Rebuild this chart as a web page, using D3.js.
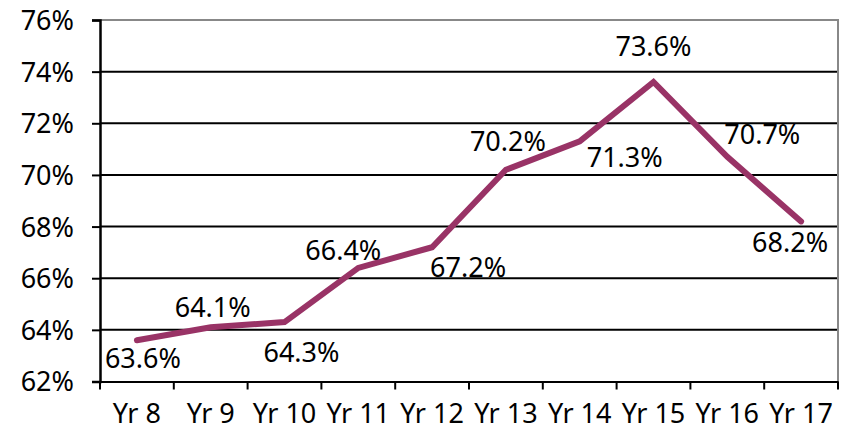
<!DOCTYPE html>
<html>
<head>
<meta charset="utf-8">
<script src="https://cdn.jsdelivr.net/npm/d3@7"></script>
<style>
  body { margin: 0; background: #fff; }
  text { font-family: "Noto Sans", sans-serif; font-size: 27px; fill: #000; }
</style>
</head>
<body>
<svg id="chart"></svg>
<script>
// data
const years = ['Yr 8', 'Yr 9', 'Yr 10', 'Yr 11', 'Yr 12', 'Yr 13', 'Yr 14', 'Yr 15', 'Yr 16', 'Yr 17'];
const rates = [63.6, 64.1, 64.3, 66.4, 67.2, 70.2, 71.3, 73.6, 70.7, 68.2];
const yTicks = [62, 64, 66, 68, 70, 72, 74, 76];

// where each data label sits relative to its point (px)
const labelDx = [6, 2, 17, -15, 36, 2, 45, 0, 35, -11];
const labelDy = [18, -20, 30, -17, 20, -28, 16, -35, -22, 21];

const W = 848, H = 430;
const margin = { top: 20, right: 10, bottom: 48.5, left: 100 };
const width = W - margin.left - margin.right;
const height = H - margin.top - margin.bottom;

const svg = d3.select('#chart').attr('width', W).attr('height', H);
const g = svg.append('g').attr('transform', `translate(${margin.left},${margin.top})`);

const x = d3.scaleBand().domain(years).range([0, width]).padding(0);
const y = d3.scaleLinear().domain([62, 76]).range([height, 0]);

// grid lines
g.selectAll('.grid')
  .data(yTicks.slice(1, -1))
  .enter().append('line')
  .attr('x1', 0).attr('x2', width)
  .attr('y1', d => y(d)).attr('y2', d => y(d))
  .attr('stroke', '#000').attr('stroke-width', 2);

// top and right border
g.append('path')
  .attr('d', `M0,${y(76)}H${width}V${height}`)
  .attr('fill', 'none').attr('stroke', '#888').attr('stroke-width', 2);

// y axis
const yAxis = g.append('g')
  .call(d3.axisLeft(y).tickValues(yTicks).tickSize(8).tickPadding(18).tickFormat(d => d + '%'));
yAxis.select('.domain').attr('stroke', '#000').attr('stroke-width', 2.5);
yAxis.selectAll('.tick line').attr('stroke', '#000').attr('stroke-width', 2);
yAxis.selectAll('text').attr('font-size', null).attr('font-family', null).attr('dy', '0.35em');

// x axis, ticks on band edges
const xAxis = g.append('g')
  .attr('transform', `translate(0,${height})`)
  .call(d3.axisBottom(x).tickSize(0).tickPadding(32));
xAxis.select('.domain').attr('stroke', '#000').attr('stroke-width', 2);
xAxis.selectAll('text').attr('font-size', null).attr('font-family', null).attr('dy', '0.35em');
g.append('g').selectAll('line')
  .data(d3.range(years.length + 1))
  .enter().append('line')
  .attr('x1', i => i * x.bandwidth()).attr('x2', i => i * x.bandwidth())
  .attr('y1', height).attr('y2', height + 8)
  .attr('stroke', '#000').attr('stroke-width', 2);

// the line
const line = d3.line()
  .x((d, i) => x(years[i]) + x.bandwidth() / 2)
  .y(d => y(d));

g.append('path')
  .datum(rates)
  .attr('d', line)
  .attr('fill', 'none')
  .attr('stroke', '#993366')
  .attr('stroke-width', 6)
  .attr('stroke-linejoin', 'miter')
  .attr('stroke-linecap', 'round');

// data labels
g.selectAll('.lbl')
  .data(rates)
  .enter().append('text')
  .attr('x', (d, i) => x(years[i]) + x.bandwidth() / 2 + labelDx[i])
  .attr('y', (d, i) => y(d) + labelDy[i])
  .attr('dy', '0.35em')
  .attr('text-anchor', 'middle')
  .text(d => d.toFixed(1) + '%');
</script>
</body>
</html>
